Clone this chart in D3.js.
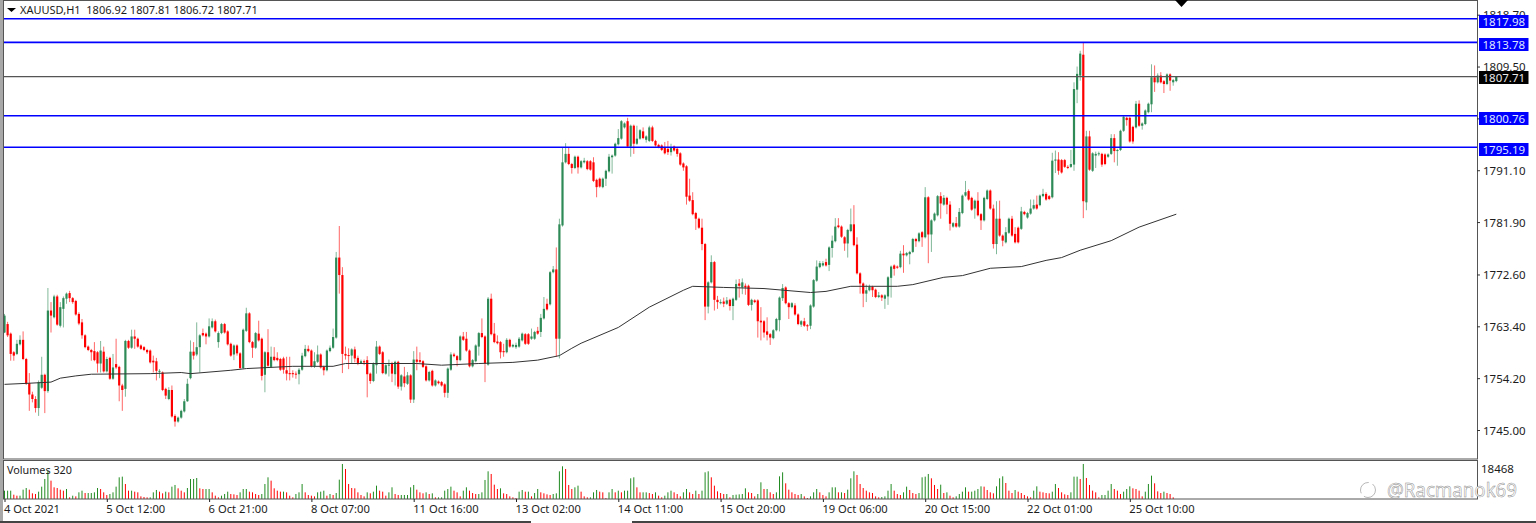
<!DOCTYPE html>
<html>
<head>
<meta charset="utf-8">
<style>
  html, body { margin: 0; padding: 0; background: #fff; overflow: hidden; }
  text { font-family: "Noto Sans", sans-serif; font-size: 11.5px; fill: #1c1c1c; }
</style>
<script src="https://cdnjs.cloudflare.com/ajax/libs/d3/7.8.5/d3.min.js"></script>
</head>
<body>
<svg id="chart" width="1536" height="523"></svg>
<script>
var opens = [
  1762.3,1763.8,1762.1,1758.8,1758.5,1760.2,1761.0,1757.6,1753.3,1751.3,
  1750.5,1748.9,1752.5,1754.8,1751.9,1766.2,1765.0,1768.7,1763.5,1766.5,
  1768.3,1769.3,1768.4,1767.9,1765.6,1764.1,1761.8,1759.8,1759.2,1759.0,
  1758.8,1756.8,1758.9,1755.4,1757.8,1754.1,1756.7,1756.2,1752.9,1752.3,
  1760.8,1759.6,1761.6,1761.2,1760.0,1759.7,1759.2,1759.1,1757.3,1757.2,
  1755.4,1755.2,1752.3,1750.5,1752.1,1747.5,1746.5,1747.2,1748.3,1750.1,
  1754.2,1758.9,1758.4,1759.7,1762.2,1762.1,1761.6,1763.2,1764.3,1760.6,
  1762.2,1763.8,1762.5,1760.3,1758.4,1760.0,1758.6,1756.0,1762.6,1765.7,
  1760.6,1759.6,1762.1,1761.2,1754.8,1758.8,1756.2,1758.0,1757.8,1757.6,
  1757.7,1755.6,1755.1,1755.1,1755.0,1754.9,1755.7,1758.1,1759.4,1759.1,
  1756.3,1757.1,1758.4,1756.2,1755.6,1759.0,1759.6,1761.4,1775.6,1772.5,
  1758.5,1758.3,1758.2,1759.3,1757.8,1756.9,1757.2,1757.4,1755.0,1753.7,
  1756.5,1759.8,1758.8,1755.0,1756.5,1756.9,1754.9,1757.1,1752.7,1754.5,
  1753.2,1754.7,1750.4,1757.5,1757.4,1757.2,1756.3,1753.8,1755.5,1752.9,
  1753.6,1753.5,1753.1,1751.6,1755.7,1758.4,1758.1,1757.4,1761.6,1761.2,
  1759.1,1756.3,1757.2,1759.8,1762.2,1761.6,1756.6,1768.3,1762.1,1760.7,
  1760.6,1759.0,1758.8,1761.0,1759.8,1759.7,1759.8,1760.9,1762.0,1762.0,
  1761.2,1761.2,1762.6,1762.4,1764.8,1767.4,1767.3,1773.0,1773.5,1761.2,
  1781.3,1792.5,1794.0,1792.2,1791.5,1793.5,1791.6,1792.5,1792.7,1792.7,
  1792.5,1789.4,1789.6,1788.1,1789.6,1790.9,1793.4,1793.7,1795.7,1796.7,
  1798.7,1799.8,1795.3,1799.0,1795.8,1796.7,1798.0,1796.5,1796.3,1798.7,
  1796.3,1795.6,1795.5,1795.2,1794.9,1794.3,1795.3,1794.9,1794.1,1792.3,
  1791.8,1786.6,1785.8,1783.5,1782.5,1780.9,1778.0,1766.9,1771.2,1774.8,
  1768.1,1767.5,1767.8,1767.4,1768.1,1767.0,1768.1,1771.0,1770.3,1770.6,
  1770.6,1767.2,1768.0,1768.0,1764.4,1764.3,1762.5,1762.0,1761.3,1762.7,
  1764.5,1768.4,1770.3,1767.5,1766.8,1767.1,1765.5,1763.7,1764.3,1763.6,
  1763.5,1766.9,1771.5,1773.9,1774.2,1774.8,1774.3,1777.3,1778.5,1781.3,
  1781.1,1779.2,1778.1,1780.3,1781.5,1777.9,1772.8,1771.0,1769.2,1769.8,
  1770.4,1769.9,1768.6,1768.9,1768.3,1768.7,1772.0,1774.2,1774.0,1773.9,
  1776.3,1776.0,1776.2,1776.6,1778.9,1778.5,1780.1,1779.2,1786.3,1779.7,
  1782.2,1783.1,1786.5,1785.0,1786.2,1785.0,1781.1,1781.7,1781.1,1783.5,
  1786.6,1787.4,1786.2,1784.3,1785.7,1783.3,1782.2,1786.0,1787.5,1784.3,
  1778.0,1782.5,1779.5,1778.3,1780.0,1782.5,1779.8,1780.9,1780.7,1783.7,
  1782.7,1783.4,1784.3,1785.0,1784.9,1786.5,1786.9,1786.5,1786.3,1792.8,
  1793.0,1792.9,1792.9,1791.7,1791.7,1792.1,1805.4,1807.9,1811.6,1785.4,
  1797.1,1791.0,1793.7,1794.0,1794.0,1793.9,1793.5,1794.0,1796.8,1794.5,1794.7,
  1798.1,1800.4,1800.4,1798.8,1798.7,1802.9,1799.0,1799.3,1801.4,1802.8,
  1807.6,1806.7,1807.9,1806.9,1806.4,1808.1,1806.7,1806.92
];
var closes = [
  1765.3,1761.8,1758.5,1758.2,1760.3,1761.0,1757.6,1753.2,1751.3,1750.5,
  1748.9,1753.5,1754.8,1751.9,1766.2,1765.3,1768.7,1763.7,1766.8,1768.4,
  1769.2,1768.4,1767.7,1765.5,1763.9,1761.8,1759.7,1759.2,1758.8,1757.4,
  1756.8,1759.1,1755.4,1757.6,1754.1,1756.1,1756.1,1752.9,1752.1,1760.8,
  1759.6,1761.6,1761.2,1759.8,1759.4,1759.2,1758.8,1757.0,1757.0,1755.5,
  1755.5,1752.1,1751.1,1752.1,1747.4,1746.5,1747.2,1748.4,1750.1,1753.2,
  1758.9,1758.2,1759.7,1761.8,1761.8,1761.6,1763.4,1764.3,1762.5,1762.2,
  1763.8,1762.3,1760.2,1758.2,1760.0,1758.6,1756.0,1762.8,1765.7,1760.6,
  1759.6,1762.2,1760.9,1754.6,1758.8,1756.4,1758.0,1757.4,1757.4,1755.7,
  1755.7,1755.0,1754.9,1754.9,1754.9,1755.7,1758.2,1759.4,1759.0,1756.3,
  1757.2,1758.4,1756.1,1755.6,1759.1,1759.6,1761.5,1775.6,1772.5,1758.5,
  1758.2,1758.2,1759.3,1757.7,1756.9,1757.2,1757.0,1754.9,1753.7,1756.8,
  1759.8,1758.5,1755.1,1756.5,1756.6,1755.0,1757.1,1752.7,1754.7,1753.3,
  1754.7,1750.4,1757.5,1757.1,1757.1,1756.2,1753.8,1755.3,1752.9,1753.8,
  1753.3,1752.9,1751.6,1755.9,1758.4,1758.1,1757.4,1761.6,1761.0,1759.1,
  1756.3,1757.4,1760.0,1762.2,1761.5,1756.8,1768.3,1762.0,1760.6,1760.4,
  1758.8,1758.8,1761.0,1759.8,1760.1,1760.1,1761.2,1762.1,1760.3,1760.3,
  1761.6,1762.4,1762.1,1764.9,1766.5,1766.4,1773.0,1773.5,1761.2,1781.5,
  1792.5,1794.0,1792.2,1791.5,1793.5,1791.6,1792.7,1792.8,1791.3,1791.2,
  1789.2,1788.1,1788.2,1789.6,1791.0,1793.5,1793.7,1795.8,1796.8,1799.8,
  1799.4,1795.3,1799.0,1795.8,1796.7,1798.2,1796.8,1797.1,1798.7,1796.3,
  1795.5,1795.2,1794.7,1794.1,1794.3,1795.2,1794.6,1794.0,1792.1,1791.6,
  1786.4,1785.7,1783.3,1782.5,1780.9,1778.0,1766.9,1771.2,1774.8,1768.1,
  1767.7,1767.7,1767.4,1768.0,1767.0,1768.3,1770.9,1770.6,1771.2,1770.3,
  1767.2,1768.1,1767.7,1764.3,1764.1,1762.3,1761.9,1761.4,1762.7,1764.7,
  1768.5,1770.2,1767.5,1766.8,1767.5,1765.5,1763.8,1764.3,1763.5,1763.4,
  1767.1,1771.6,1774.0,1774.6,1774.6,1774.2,1777.4,1778.6,1781.1,1781.0,
  1779.3,1778.1,1780.5,1781.5,1777.8,1772.8,1771.0,1769.2,1769.8,1770.4,
  1769.8,1768.6,1768.9,1768.5,1768.9,1772.1,1774.0,1773.6,1773.8,1776.3,
  1776.0,1776.4,1776.6,1778.9,1778.5,1779.9,1779.2,1786.3,1779.7,1782.2,
  1783.4,1786.5,1785.2,1786.2,1785.0,1781.6,1781.7,1781.1,1783.7,1786.6,
  1787.2,1785.9,1784.1,1785.7,1783.1,1782.2,1786.2,1787.5,1784.3,1778.0,
  1782.5,1779.5,1778.6,1780.1,1782.5,1779.5,1778.3,1778.3,1783.8,1783.3,
  1783.5,1784.3,1784.9,1784.3,1786.6,1786.9,1785.9,1786.0,1792.8,1793.0,
  1791.0,1790.7,1791.7,1791.5,1792.2,1805.5,1808.2,1811.8,1785.6,1797.1,
  1791.2,1794.1,1794.0,1794.1,1792.1,1792.2,1793.9,1796.8,1794.5,1794.7,1798.1,
  1800.6,1800.0,1796.2,1796.2,1802.9,1799.0,1799.4,1801.7,1802.9,1807.6,
  1806.7,1807.9,1806.7,1806.4,1808.1,1807.0,1807.1,1807.71
];
var highs = [
  1765.6,1764.2,1762.3,1759.0,1761.0,1761.8,1762.5,1757.8,1755.1,1751.8,
  1751.0,1753.8,1758.0,1755.0,1770.2,1767.7,1769.0,1769.0,1767.7,1768.7,
  1769.4,1769.7,1768.6,1768.1,1765.9,1764.7,1762.0,1760.0,1759.4,1760.6,
  1759.0,1760.8,1759.8,1758.0,1758.0,1758.5,1761.2,1756.4,1753.2,1761.0,
  1761.0,1762.8,1762.8,1761.4,1760.2,1759.9,1759.4,1759.3,1758.2,1757.8,
  1755.8,1755.4,1752.5,1752.6,1752.9,1747.8,1747.4,1748.6,1750.5,1754.1,
  1760.9,1760.6,1764.1,1762.0,1763.0,1762.3,1764.8,1764.8,1764.6,1762.5,
  1764.0,1764.0,1762.7,1760.5,1760.2,1760.2,1758.8,1763.0,1766.7,1765.9,
  1760.8,1762.4,1764.4,1761.4,1759.0,1762.9,1759.8,1759.7,1758.8,1757.8,
  1758.0,1758.0,1758.0,1755.6,1755.4,1756.0,1758.7,1760.1,1760.0,1759.3,
  1758.8,1760.0,1758.6,1756.4,1759.3,1760.0,1763.0,1776.6,1781.2,1773.9,
  1759.8,1759.5,1759.5,1759.8,1758.2,1757.5,1757.5,1758.1,1755.2,1757.0,
  1760.8,1760.0,1759.0,1756.7,1757.5,1757.1,1757.3,1757.3,1754.9,1756.2,
  1755.3,1754.9,1759.0,1759.8,1758.8,1757.4,1756.5,1755.5,1755.7,1754.0,
  1753.8,1753.7,1753.3,1756.1,1758.8,1758.7,1758.3,1761.8,1762.4,1762.4,
  1759.3,1757.6,1760.2,1762.4,1764.8,1761.8,1768.6,1769.2,1764.0,1761.8,
  1760.8,1760.3,1761.3,1761.2,1760.3,1760.5,1761.5,1762.3,1762.2,1762.2,
  1763.0,1762.6,1763.3,1765.6,1768.6,1768.3,1773.2,1774.1,1777.4,1782.5,
  1795.2,1795.9,1795.2,1792.4,1793.7,1793.7,1792.9,1793.3,1792.9,1792.9,
  1793.4,1789.6,1789.8,1789.8,1791.2,1794.0,1793.9,1796.0,1798.4,1800.0,
  1799.6,1800.4,1799.2,1799.2,1799.0,1798.4,1798.7,1797.3,1799.0,1799.0,
  1796.5,1795.8,1795.7,1796.1,1796.3,1795.8,1795.5,1795.1,1794.3,1792.5,
  1792.0,1789.6,1787.2,1783.7,1782.7,1782.5,1778.2,1771.4,1776.0,1775.0,
  1768.8,1768.2,1768.5,1768.6,1768.3,1768.5,1771.7,1771.8,1771.9,1771.0,
  1770.8,1768.3,1768.2,1768.2,1766.8,1764.5,1765.0,1762.2,1762.9,1764.9,
  1768.7,1770.9,1770.5,1767.7,1767.7,1767.5,1765.7,1764.5,1764.9,1763.8,
  1767.3,1771.8,1775.1,1775.0,1775.0,1775.4,1777.6,1779.5,1782.6,1782.6,
  1781.3,1779.4,1780.7,1784.3,1784.9,1779.2,1773.0,1771.2,1770.8,1770.8,
  1770.6,1770.1,1769.5,1769.1,1769.1,1772.3,1774.2,1774.4,1774.2,1776.8,
  1777.8,1776.6,1776.8,1779.1,1779.1,1780.1,1780.3,1788.1,1786.5,1782.4,
  1783.6,1786.7,1787.2,1786.7,1786.4,1785.6,1781.9,1782.8,1784.4,1786.8,
  1789.2,1787.7,1786.4,1785.9,1787.2,1783.5,1786.4,1787.7,1787.7,1785.0,
  1785.6,1785.7,1779.7,1781.0,1782.7,1783.0,1781.0,1781.1,1784.6,1783.9,
  1783.7,1785.9,1785.9,1786.6,1786.8,1787.8,1787.2,1786.7,1794.2,1794.6,
  1794.3,1793.1,1793.1,1792.0,1794.7,1806.7,1809.5,1812.3,1813.7,1798.1,
  1798.1,1794.3,1794.4,1794.4,1794.2,1794.1,1794.1,1797.5,1797.5,1794.9,1798.3,
  1800.8,1800.6,1800.6,1799.0,1803.4,1803.5,1799.6,1801.9,1803.1,1809.9,
  1809.7,1808.3,1808.5,1807.1,1808.3,1808.3,1807.3,1807.81
];
var lows = [
  1762.2,1761.5,1757.3,1757.3,1758.3,1760.0,1757.4,1753.0,1748.4,1749.9,
  1748.1,1747.5,1752.3,1748.0,1751.6,1762.3,1764.8,1763.5,1763.2,1763.2,
  1767.4,1767.7,1767.4,1765.3,1763.6,1761.2,1759.5,1759.0,1757.3,1757.2,
  1755.2,1755.2,1755.2,1755.2,1753.9,1753.9,1755.8,1750.1,1748.4,1750.9,
  1759.4,1759.4,1759.4,1759.6,1759.2,1759.0,1758.5,1756.8,1755.2,1753.8,
  1754.2,1751.9,1750.5,1750.3,1747.2,1745.6,1746.3,1747.0,1748.1,1750.0,
  1754.0,1757.5,1758.1,1755.2,1761.6,1760.2,1761.4,1763.0,1762.3,1759.6,
  1762.0,1762.1,1760.0,1758.0,1757.4,1758.2,1755.8,1755.8,1762.4,1760.4,
  1757.8,1759.4,1760.7,1753.8,1751.7,1756.2,1756.0,1757.2,1757.2,1755.5,
  1755.0,1753.8,1753.8,1754.3,1754.1,1753.1,1755.5,1757.9,1758.8,1756.1,
  1756.0,1756.9,1755.9,1754.7,1755.4,1758.8,1759.4,1761.2,1769.2,1755.1,
  1757.5,1755.8,1756.8,1757.0,1756.5,1756.7,1756.5,1750.8,1753.2,1753.5,
  1755.0,1758.3,1754.9,1754.8,1754.5,1753.5,1752.9,1752.3,1752.0,1752.6,
  1753.0,1749.8,1749.8,1755.6,1756.9,1756.0,1753.6,1753.6,1752.7,1752.7,
  1753.1,1752.7,1750.8,1750.7,1755.5,1757.9,1756.3,1757.2,1760.8,1758.9,
  1756.1,1756.1,1757.0,1758.2,1761.3,1753.5,1756.4,1761.8,1760.4,1760.2,
  1757.7,1758.0,1758.6,1759.6,1759.6,1759.4,1759.6,1760.7,1760.1,1760.1,
  1761.0,1761.0,1761.9,1761.5,1764.6,1766.2,1767.1,1772.8,1758.0,1757.7,
  1781.1,1792.3,1792.0,1790.5,1791.3,1790.5,1791.4,1792.3,1791.1,1791.0,
  1789.0,1786.3,1788.0,1787.9,1788.3,1790.7,1790.5,1793.5,1795.5,1796.5,
  1798.5,1795.1,1793.5,1794.0,1795.6,1796.5,1796.6,1796.0,1796.1,1796.1,
  1795.3,1795.0,1794.5,1793.9,1793.8,1793.7,1794.4,1793.5,1791.9,1791.0,
  1785.0,1785.5,1783.1,1780.5,1780.7,1776.9,1764.5,1765.7,1771.0,1766.2,
  1766.5,1767.3,1766.8,1767.2,1766.2,1764.5,1767.9,1768.5,1769.1,1769.0,
  1767.0,1766.2,1767.5,1761.4,1760.9,1761.4,1760.9,1760.1,1761.1,1762.5,
  1762.5,1767.9,1767.3,1764.7,1766.6,1765.3,1763.6,1763.3,1763.3,1762.6,
  1762.9,1766.7,1771.3,1773.7,1774.0,1774.0,1773.2,1775.6,1778.3,1780.8,
  1779.1,1776.8,1775.6,1780.1,1777.6,1772.6,1769.2,1766.8,1767.7,1769.6,
  1768.6,1768.4,1768.4,1767.9,1766.5,1767.2,1768.5,1772.4,1773.6,1773.7,
  1772.9,1775.8,1774.4,1776.4,1777.5,1778.3,1777.5,1779.0,1774.6,1776.6,
  1782.0,1782.9,1782.5,1784.8,1783.3,1780.4,1780.9,1780.9,1780.9,1783.3,
  1786.4,1785.7,1783.9,1782.5,1782.9,1780.5,1782.0,1785.8,1784.1,1777.2,
  1776.2,1779.3,1777.6,1778.1,1779.8,1779.3,1778.1,1778.1,1780.5,1783.1,
  1782.5,1783.2,1784.1,1784.1,1784.7,1786.3,1785.7,1785.8,1786.1,1790.6,
  1790.3,1790.5,1791.5,1791.3,1791.5,1791.0,1803.0,1807.0,1782.6,1784.0,
  1791.0,1790.8,1791.5,1793.6,1791.7,1792.0,1793.3,1793.8,1792.5,1791.9,1794.5,
  1797.9,1799.0,1796.0,1795.8,1798.5,1798.8,1798.3,1799.1,1801.2,1801.4,
  1805.0,1806.5,1806.5,1804.8,1806.2,1805.2,1806.1,1806.72
];
var volumes = [
  3950,3950,3950,2050,1580,1580,4420,5210,4420,2690,
  2370,3480,5850,9480,13430,8690,5530,5210,4420,3950,
  4740,790,1580,1260,3160,3950,2840,2840,2840,3160,
  5210,4740,3160,1900,2370,3160,5850,10270,10590,7110,
  3950,3950,3480,3160,1260,950,790,790,3160,4270,
  3480,2690,3480,3160,5850,6640,5060,3950,3160,5210,
  9480,9480,9950,5060,4740,4740,4740,3160,1580,790,
  1580,2370,3480,2370,2210,1900,3160,4740,4740,3480,
  3160,2370,1900,2370,7110,10270,8690,5060,3950,3480,
  3480,3160,1580,790,2370,3160,7110,3160,1900,1580,
  1260,3160,3480,3950,1580,2370,1900,2840,9160,16590,
  14220,7110,5210,5060,3160,1900,1260,3160,2690,3480,
  6320,3950,3480,1580,3160,5530,2370,1900,
  1900,1900,1900,5530,6640,4420,3160,2690,3160,2370,
  2690,790,790,790,3950,4740,5850,3950,3160,1260,
  3950,5530,3950,2840,2370,2370,3160,9010,13110,11850,
  6790,4740,5060,2690,2370,1260,790,470,3480,4270,
  3480,3480,1260,2840,4740,3160,2690,2210,1900,2370,
  2690,13110,15480,14220,6640,4740,5530,6320,3480,1260,
  790,790,3160,4270,3480,3160,470,3160,4740,3160,
  3950,3160,3950,3950,9800,10270,5530,3160,3160,3160,
  2840,2370,3160,1580,790,1580,3160,3950,3160,2370,
  1260,3160,4740,3160,2370,3950,2370,3950,12640,13110,
  10270,6320,3630,2840,2370,2370,790,1900,2050,2210,
  2370,5060,3160,2840,1260,2370,7900,4740,4740,3160,
  2370,3160,10740,12640,7430,4420,3160,2370,1900,
  2370,1260,470,1260,3160,4740,3160,1900,1260,3160,
  5530,5530,3160,3160,2840,4420,9800,13110,11380,7110,
  5210,3950,3160,2840,1260,790,950,1260,3950,7110,
  3950,2370,1900,3160,5850,4270,2840,2370,2840,10270,
  10590,11850,9800,6640,4740,6790,2840,3160,1580,790,
  1260,2370,3480,5530,3480,3480,3950,4740,6000,5850,
  4270,3160,2690,6000,9800,10740,7580,3950,2840,4270,
  3480,2840,1900,1260,790,3950,6000,3480,3160,2840,
  2690,3480,7110,5210,3160,2210,1900,3160,10590,10590,
  9480,16590,9950,6640,3950,3160,790,1900,1900,3950,
  7110,4740,3950,2370,3480,4740,6000,5060,4740,3950,
  1260,3480,7110,11060,7430,3630,2840,3480,2840,2370,
  790
];
// moving average: bar index and level
var maBars = [0,8,15,18,23,28,47,57,60,73,78,93,106,110,133,141,153,164,172,179,183,186,198,208,219,222,232,245,260,265,273,288,293,303,309,318,328,336,341,347,357,366,378];
var maVals = [1753.1,1753.3,1753.5,1754.2,1754.6,1754.9,1755.0,1755.2,1755.0,1755.6,1755.9,1756.3,1756.3,1756.8,1756.8,1756.5,1756.8,1757.0,1757.4,1758.2,1759.5,1760.4,1763.2,1766.8,1769.8,1770.5,1770.3,1770.1,1769.4,1769.6,1770.5,1770.5,1770.8,1772.1,1772.4,1773.7,1774.0,1775.1,1775.6,1776.9,1778.6,1781.0,1783.3];

var priceTicks = [1745.00,1754.20,1763.40,1772.60,1781.90,1791.10,1800.30,1809.50,1818.70];
var timeBars = [0,33,66,99,132,165,198,231,264,297,330,363];
var timeLabels = ['4 Oct 2021','5 Oct 12:00','6 Oct 21:00','8 Oct 07:00','11 Oct 16:00','13 Oct 02:00','14 Oct 11:00','15 Oct 20:00','19 Oct 06:00','20 Oct 15:00','22 Oct 01:00','25 Oct 10:00'];
var levels = [1817.98,1813.78,1800.76,1795.19];
var lastPrice = 1807.71;

var svg = d3.select('#chart');
var x = d3.scaleLinear().domain([0, 378]).range([4.5, 4.5 + 3.1 * 378]);
var y = d3.scaleLinear().domain([1745, 1818.7]).range([430, 14.7]);
var yVol = d3.scaleLinear().domain([0, 18468]).range([499, 460]);
var bars = d3.range(opens.length);
var volBars = d3.range(volumes.length);
var green = '#2e8b57', red = '#ff0000', blue = '#0000ff';

// window edges
svg.append('rect').attr('x', 0).attr('y', 0).attr('width', 3).attr('height', 523).attr('fill', '#a8a8a8');
svg.append('rect').attr('x', 0).attr('y', 521).attr('width', 531).attr('height', 2).attr('fill', '#444');
svg.append('rect').attr('x', 632).attr('y', 521).attr('width', 904).attr('height', 2).attr('fill', '#444');

// volumes
svg.append('g').selectAll('rect').data(volBars).join('rect')
  .attr('x', function (i) { return x(i) - 0.5; })
  .attr('width', 1)
  .attr('y', function (i) { return yVol(volumes[i]); })
  .attr('height', function (i) { return 499 - yVol(volumes[i]); })
  .attr('fill', function (i) { return i > 0 && volumes[i] < volumes[i - 1] ? red : '#228b22'; });

// candles
var candle = svg.append('g').selectAll('g').data(bars).join('g');
candle.append('rect')
  .attr('x', function (i) { return x(i) - 0.5; })
  .attr('width', 1)
  .attr('y', function (i) { return y(highs[i]); })
  .attr('height', function (i) { return y(lows[i]) - y(highs[i]); })
  .attr('fill', function (i) { return closes[i] >= opens[i] ? green : red; })
  .attr('opacity', 0.6);
candle.append('rect')
  .attr('x', function (i) { return x(i) - 1.1; })
  .attr('width', 2.2)
  .attr('y', function (i) { return y(Math.max(opens[i], closes[i])); })
  .attr('height', function (i) { return Math.max(1, Math.abs(y(opens[i]) - y(closes[i]))); })
  .attr('fill', function (i) { return closes[i] >= opens[i] ? green : red; });

// moving average
svg.append('path')
  .datum(maBars)
  .attr('fill', 'none')
  .attr('stroke', '#333')
  .attr('stroke-width', 1)
  .attr('d', d3.line()
    .x(function (b) { return x(b); })
    .y(function (b, k) { return y(maVals[k]); }));

// horizontal levels
svg.append('line').attr('x1', 3).attr('x2', 1477)
  .attr('y1', y(lastPrice)).attr('y2', y(lastPrice))
  .attr('stroke', '#555').attr('stroke-width', 1.2);
svg.append('g').selectAll('line').data(levels).join('line')
  .attr('x1', 3).attr('x2', 1477)
  .attr('y1', function (d) { return y(d); })
  .attr('y2', function (d) { return y(d); })
  .attr('stroke', blue).attr('stroke-width', 1.6);

// frames
svg.append('rect').attr('x', 3.5).attr('y', 0.5).attr('width', 1474).attr('height', 458.5)
  .attr('fill', 'none').attr('stroke', '#555');
svg.append('rect').attr('x', 3.5).attr('y', 460.5).attr('width', 1474).attr('height', 38.5)
  .attr('fill', 'none').attr('stroke', '#555');

// axes
var priceAxis = svg.append('g').attr('transform', 'translate(1477,0)')
  .call(d3.axisRight(y).tickValues(priceTicks).tickFormat(d3.format('.2f')).tickSize(3).tickPadding(3));
priceAxis.select('.domain').remove();
priceAxis.selectAll('line').attr('stroke', '#333');
priceAxis.selectAll('text').attr('y', 0.6);

var timeAxis = svg.append('g').attr('transform', 'translate(0,499)')
  .call(d3.axisBottom(x).tickValues(timeBars).tickFormat(function (d, k) { return timeLabels[k]; }).tickSize(3).tickPadding(3));
timeAxis.select('.domain').remove();
timeAxis.selectAll('line').attr('stroke', '#222');
timeAxis.selectAll('text').attr('text-anchor', 'start').attr('dx', -1);
priceAxis.selectAll('text').style('font-family', '"Noto Sans", sans-serif').style('font-size', '11.5px').attr('fill', '#1c1c1c');
timeAxis.selectAll('text').style('font-family', '"Noto Sans", sans-serif').style('font-size', '11.2px').attr('fill', '#1c1c1c');

// price tags
var tag = svg.append('g').selectAll('g').data(levels).join('g')
  .attr('transform', function (d) { return 'translate(1479,' + (Math.round(y(d)) - 4) + ')'; });
tag.append('rect').attr('width', 49.5).attr('height', 13).attr('fill', blue);
tag.append('text').attr('x', 3.5).attr('y', 10.5).style('fill', '#dfe6ff')
  .text(function (d) { return d.toFixed(2); });

var lastTag = svg.append('g').attr('transform', 'translate(1479,' + (Math.round(y(lastPrice)) - 6) + ')');
lastTag.append('rect').attr('width', 49.5).attr('height', 13).attr('fill', '#000');
lastTag.append('text').attr('x', 3.5).attr('y', 10.5).style('fill', '#e8e8e8').text(lastPrice.toFixed(2));

// titles
svg.append('path').attr('d', 'M7,8L16,8L11.5,12Z').attr('fill', '#000');
svg.append('text').attr('x', 20).attr('y', 14).style('font-size', '11px').style('white-space', 'pre')
  .text('XAUUSD,H1  1806.92 1807.81 1806.72 1807.71');
svg.append('text').attr('x', 7).attr('y', 474).style('font-size', '10.8px').text('Volumes 320');
svg.append('text').attr('x', 1481).attr('y', 473).text('18468');

// shift marker
svg.append('path').attr('d', 'M1175,0L1188,0L1181.5,7Z').attr('fill', '#000');

// watermark
var mark = svg.append('g');
mark.append('text').attr('x', 1387).attr('y', 497)
  .attr('textLength', 130).attr('lengthAdjust', 'spacingAndGlyphs')
  .style('font-size', '20px').style('fill', '#fff').style('stroke', '#8a8a8a').style('stroke-width', 0.5)
  .text('@Racmanok69');
mark.append('circle').attr('cx', 1368).attr('cy', 490).attr('r', 7.5)
  .attr('fill', 'none').attr('stroke', '#9a9a9a').attr('stroke-width', 0.7).attr('stroke-dasharray', '16 4');
</script>
</body>
</html>
